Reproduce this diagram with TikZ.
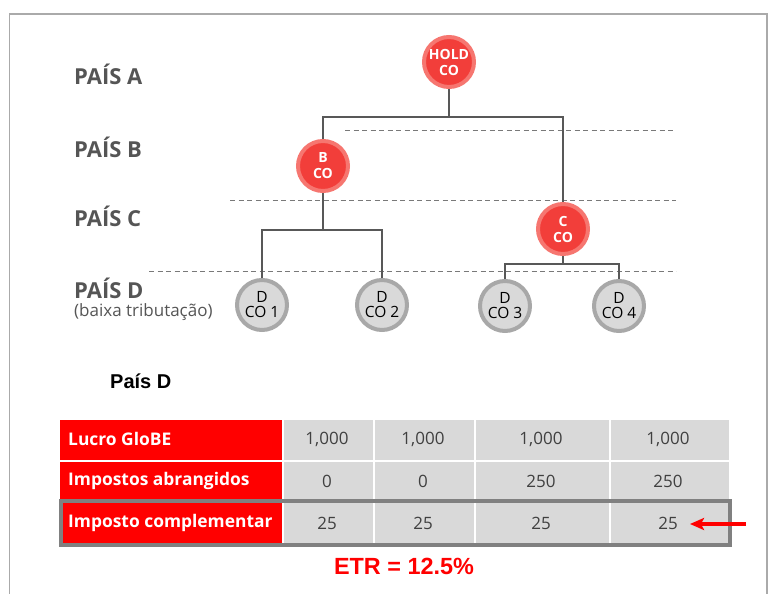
\documentclass[tikz,border=0pt]{standalone}
\usepackage{fontspec}
\setmainfont{Open Sans}
\newfontfamily\arialfont{Liberation Sans}
\usetikzlibrary{arrows.meta}
\definecolor{redfill}{RGB}{242,62,58}
\definecolor{redring}{RGB}{246,118,112}
\definecolor{grayfill}{RGB}{217,217,217}
\definecolor{grayring}{RGB}{168,168,168}
\definecolor{connc}{RGB}{88,88,88}
\definecolor{labc}{RGB}{85,85,85}
\definecolor{numc}{RGB}{64,64,64}
\definecolor{tabred}{RGB}{255,0,0}
\definecolor{framec}{RGB}{170,170,170}
\definecolor{outc}{RGB}{128,128,128}
\tikzset{
  redco/.style={circle,fill=redfill,draw=redring,line width=4pt,minimum size=50pt,inner sep=0pt,
    text=white,align=center,font=\fontsize{14}{16}\selectfont\bfseries},
  grayco/.style={circle,fill=grayfill,draw=grayring,line width=4pt,minimum size=50pt,inner sep=0pt,
    text=black,align=center,font=\fontsize{15.5}{15}\selectfont},
  conn/.style={draw=connc,line width=2.3pt},
  dashl/.style={draw=connc!80,line width=1pt,dash pattern=on 5pt off 3.5pt},
  pais/.style={anchor=west,text=labc,font=\fontsize{22}{24}\selectfont\bfseries,inner sep=0pt},
  redcell/.style={fill=tabred,draw=white,line width=1.5pt,anchor=north west,inner sep=0pt},
  graycell/.style={fill=grayfill,draw=white,line width=1.5pt,anchor=north west,inner sep=0pt},
  lab/.style={text=white,anchor=west,font=\fontsize{17.4}{19}\selectfont\bfseries,inner sep=0pt},
  num/.style={text=numc,font=\fontsize{17}{19}\selectfont,inner sep=0pt},
}
\begin{document}
\begin{tikzpicture}[x=1pt,y=-1pt]
\useasboundingbox (0,0) rectangle (769,594);
% frame
\draw[framec,line width=1.5pt] (9.5,594) -- (9.5,14) -- (767,14) -- (767,594);
% dashed level lines
\draw[dashl] (345,130) -- (676,130);
\draw[dashl] (230,200) -- (676,200);
\draw[dashl] (149,271) -- (676,271);
% country labels
\node[pais] (pa) at (74,74) {PAÍS A};
\node[pais] (pb) at (74,147) {PAÍS B};
\node[pais] (pc) at (74,216) {PAÍS C};
\node[pais] (pd) at (74,288) {PAÍS D};
\node[anchor=west,text=labc,font=\fontsize{17}{19}\selectfont,inner sep=0pt] (pdl) at (74,312) {(baixa tributação)};
% junction coordinates
\coordinate (busA) at (0,117);
\coordinate (busB) at (0,230);
\coordinate (busC) at (0,264);
% entities
\node[redco] (hold) at (449,62) {HOLD\\CO};
\node[redco] (b) at (323,166) {B\\CO};
\node[redco] (c) at (563,229) {C\\CO};
\node[grayco] (d1) at (262,305) {D\\CO 1};
\node[grayco] (d2) at (382,305) {D\\CO 2};
\node[grayco] (d3) at (505,306) {D\\CO 3};
\node[grayco] (d4) at (619,306) {D\\CO 4};
% connectors
\draw[conn] (hold.south) -- (hold.south |- busA);
\draw[conn] (b.north) |- (c.north |- busA) -- (c.north);
\draw[conn] (b.south) -- (b.south |- busB);
\draw[conn] (d1.north) |- (d2.north |- busB) -- (d2.north);
\draw[conn] (c.south) -- (c.south |- busC);
\draw[conn] (d3.north) |- (d4.north |- busC) -- (d4.north);
% Pais D title
\node[anchor=west,inner sep=0pt,font=\arialfont\fontsize{20}{22}\selectfont\bfseries] (tit) at (110,381) {País D};
% table
\node[redcell,minimum width=224pt,minimum height=42pt] (r1) at (58,418) {};
\node[redcell,minimum width=224pt,minimum height=40pt] (r2) at (58,460) {};
\node[graycell,minimum width=91pt,minimum height=42pt] (g11) at (282,418) {};
\node[graycell,minimum width=101pt,minimum height=42pt] (g12) at (373,418) {};
\node[graycell,minimum width=135pt,minimum height=42pt] (g13) at (474,418) {};
\node[graycell,minimum width=120pt,minimum height=42pt] (g14) at (609,418) {};
\node[graycell,minimum width=91pt,minimum height=40pt] (g21) at (282,460) {};
\node[graycell,minimum width=101pt,minimum height=40pt] (g22) at (373,460) {};
\node[graycell,minimum width=135pt,minimum height=40pt] (g23) at (474,460) {};
\node[graycell,minimum width=120pt,minimum height=40pt] (g24) at (609,460) {};
\node[graycell,minimum width=91pt,minimum height=46pt] (g31) at (282,500) {};
\node[graycell,minimum width=101pt,minimum height=46pt] (g32) at (373,500) {};
\node[graycell,minimum width=135pt,minimum height=46pt] (g33) at (474,500) {};
\node[graycell,minimum width=120pt,minimum height=46pt] (g34) at (609,500) {};
\node[fill=tabred,anchor=north west,inner sep=0pt,minimum width=220pt,minimum height=40pt] (r3) at (62,503) {};
\draw[outc,line width=4pt] (60.5,501) rectangle (729.5,545);
% labels
\node[lab] (l1) at (68,439) {Lucro GloBE};
\node[lab] (l2) at (68,481) {Impostos abrangidos};
\node[lab] (l3) at (68,523) {Imposto complementar};
% numbers
\node[num] (n11) at (327,439) {1,000};
\node[num] (n12) at (423,439) {1,000};
\node[num] (n13) at (541,439) {1,000};
\node[num] (n14) at (668,439) {1,000};
\node[num] (n21) at (327,481) {0};
\node[num] (n22) at (423,481) {0};
\node[num] (n23) at (541,481) {250};
\node[num] (n24) at (668,481) {250};
\node[num] (n31) at (327,523) {25};
\node[num] (n32) at (423,523) {25};
\node[num] (n33) at (541,523) {25};
\node[num] (n34) at (668,523) {25};
% arrow
\coordinate (arrS) at (746,524);
\coordinate (arrE) at (690,524);
\draw[tabred,line width=3.5pt,-{Stealth[length=14pt,width=12pt,inset=3pt]}] (arrS) -- (arrE);
% ETR
\node[text=tabred,font=\arialfont\fontsize{23.4}{25}\selectfont\bfseries,inner sep=0pt] (etr) at (404,566) {ETR = 12.5\%};
\end{tikzpicture}
\end{document}
